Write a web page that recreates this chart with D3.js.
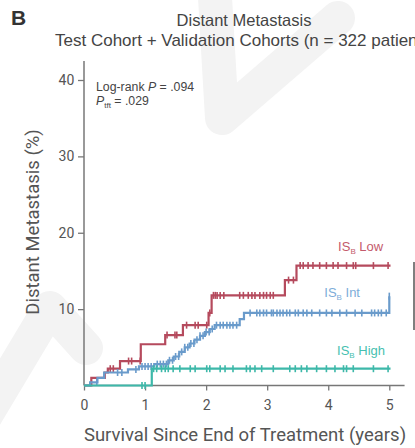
<!DOCTYPE html>
<html>
<head>
<meta charset="utf-8">
<script src="https://cdn.jsdelivr.net/npm/d3@7"></script>
<style>
  html, body { margin: 0; padding: 0; background: #fff; }
  svg { display: block; }
  text { font-family: "Liberation Sans", Arial, sans-serif; }
  .ax text { font-family: Roboto, "Liberation Sans", sans-serif; }
</style>
</head>
<body>
<div id="chart"></div>
<script>
// Cumulative incidence of distant metastasis by IS_B group (step functions)
const lowTimes  = [0, 0.12, 0.34, 0.39, 0.59, 0.93, 1.33, 1.62, 2.04, 2.09, 3.29, 3.48];
const lowRisk   = [0, 1.0, 1.7, 2.2, 3.2, 5.4, 6.6, 7.9, 9.5, 11.8, 13.8, 15.7];
const lowEnd    = 5.02;
const lowCensor = [0.43, 0.48, 0.73, 0.78, 0.92, 1.36, 1.49, 1.52, 1.68, 1.82, 1.87, 2.01, 2.06,
  2.12, 2.15, 2.18, 2.23, 2.29, 2.55, 2.61, 2.69, 2.75, 2.8, 2.88, 2.94, 2.99, 3.05, 3.1,
  3.35, 3.43, 3.54, 3.59, 3.67, 3.75, 3.86, 3.97, 4.08, 4.16, 4.3, 4.41, 4.45, 4.74, 4.98];

const intTimes  = [0, 0.1, 0.22, 0.33, 0.72, 0.9, 1.15, 1.38, 1.47, 1.56, 1.65, 1.73, 1.81, 1.9, 1.98, 2.06, 2.14, 2.55, 2.62, 5.0];
const intRisk   = [0, 0.4, 1.0, 1.7, 2.1, 2.5, 2.8, 3.3, 3.8, 4.4, 5.0, 5.5, 6.0, 6.5, 7.0, 7.4, 7.9, 8.7, 9.5, 11.7];
const intEnd    = 5.0;
const intCensor = [0.21, 0.55, 0.62, 0.85, 0.95, 1.0, 1.05, 1.1, 1.2, 1.25, 1.3, 1.35, 1.4, 1.45, 1.5,
  1.55, 1.6, 1.65, 1.7, 1.75, 1.8, 1.85, 1.9, 1.95, 2.0, 2.05, 2.1, 2.17,
  2.23, 2.28, 2.34, 2.39, 2.44, 2.5,
  2.72, 2.83, 2.88, 2.94, 2.99, 3.07, 3.1, 3.16, 3.21, 3.26, 3.32, 3.37, 3.46, 3.51, 3.59, 3.65,
  3.73, 3.86, 3.97, 4.06, 4.19, 4.3, 4.44, 4.55, 4.71, 4.76, 4.82, 4.87, 4.95, 5.0];

const highTimes  = [0, 1.11];
const highRisk   = [0, 2.2];
const highEnd    = 5.02;
const highCensor = [0.95, 1.0, 1.14, 1.19, 1.27, 1.33, 1.38, 1.46, 1.57, 1.74, 1.82, 2.01, 2.06, 2.23,
  2.31, 2.44, 2.66, 2.72, 2.8, 2.91, 3.1, 3.37, 3.46, 3.56, 3.65, 3.81, 3.97, 4.11, 4.25, 4.3,
  4.41, 4.74, 4.98];

const xTicks = [0, 1, 2, 3, 4, 5];
const yTicks = [10, 20, 30, 40];

const groups = [
  { name: "Low",  times: lowTimes,  risk: lowRisk,  end: lowEnd,  censor: lowCensor,  color: "#b54a5d", label: "#c45a6c", labelAt: [4.9, 17.6] },
  { name: "Int",  times: intTimes,  risk: intRisk,  end: intEnd,  censor: intCensor,  color: "#6a9bcb", label: "#7dadd9", labelAt: [4.52, 11.65] },
  { name: "High", times: highTimes, risk: highRisk, end: highEnd, censor: highCensor, color: "#3db8a9", label: "#46bfb0", labelAt: [4.93, 4.0] }
];

const W = 415, H = 448;
const svg = d3.select("#chart").append("svg").attr("width", W).attr("height", H);

// faint background mark
const wm = svg.append("g").attr("fill", "none").attr("stroke", "#f3f3f3")
  .attr("stroke-width", 34).attr("stroke-linecap", "round").attr("stroke-linejoin", "round");
wm.append("path").attr("d", "M214,-20 L222,118 L338,18");
wm.append("path").attr("d", "M-20,425 L50,308 L86,348");

const x = d3.scaleLinear().domain([0, 5]).range([84, 389.3]);
const y = d3.scaleLinear().domain([0, 40]).range([385.5, 80]);

// panel letter and titles
svg.append("text").attr("x", 11).attr("y", 25).attr("font-size", 21).attr("font-weight", "bold")
  .attr("fill", "#333").text("B");
svg.append("text").attr("x", 244).attr("y", 26).attr("text-anchor", "middle").attr("font-size", 16.5)
  .attr("fill", "#444").text("Distant Metastasis");
svg.append("text").attr("x", 55).attr("y", 46).attr("font-size", 17)
  .attr("fill", "#444").text("Test Cohort + Validation Cohorts (n = 322 patients)");

// axes
const axG = svg.append("g").attr("class", "ax");
const xAxis = axG.append("g").attr("transform", `translate(0,${y(0)})`)
  .call(d3.axisBottom(x).tickValues(xTicks).tickSize(5).tickSizeOuter(0).tickFormat(d3.format("d")));
xAxis.select(".domain").remove();
xAxis.selectAll(".tick line").attr("stroke", "#777").attr("stroke-width", 1.3);
xAxis.selectAll(".tick text").attr("fill", "#555").attr("font-size", 14).attr("dy", "1.15em");

const yAxis = axG.append("g").attr("transform", `translate(${x(0)},0)`)
  .call(d3.axisLeft(y).tickValues(yTicks).tickSize(6).tickSizeOuter(0));
yAxis.select(".domain").remove();
yAxis.selectAll(".tick line").attr("stroke", "#777").attr("stroke-width", 1.3);
yAxis.selectAll(".tick text").attr("fill", "#555").attr("font-size", 14).attr("dx", "-0.05em");

axG.append("line").attr("x1", x(0)).attr("x2", x(0)).attr("y1", y(0)).attr("y2", y(42.5))
  .attr("stroke", "#777").attr("stroke-width", 1.5);
axG.append("line").attr("x1", x(0)).attr("x2", x(5.25)).attr("y1", y(0)).attr("y2", y(0))
  .attr("stroke", "#777").attr("stroke-width", 1.5);

axG.append("text").attr("transform", `translate(39,222) rotate(-90)`)
  .attr("text-anchor", "middle").attr("font-size", 18.5).attr("fill", "#555")
  .text("Distant Metastasis (%)");
axG.append("text").attr("x", 245).attr("y", 441).attr("text-anchor", "middle")
  .attr("font-size", 18.5).attr("fill", "#555").text("Survival Since End of Treatment (years)");

// statistics
const st = svg.append("g").attr("font-size", 12.3).attr("fill", "#444");
const t1 = st.append("text").attr("x", 96).attr("y", 91);
t1.append("tspan").text("Log-rank ");
t1.append("tspan").attr("font-style", "italic").text("P");
t1.append("tspan").text(" = .094");
const t2 = st.append("text").attr("x", 96).attr("y", 104.5);
t2.append("tspan").attr("font-style", "italic").text("P");
t2.append("tspan").attr("font-size", 8).attr("dy", 3).text("tft");
t2.append("tspan").attr("dy", -3).text(" = .029");

// step value at time t
function valueAt(g, t) {
  let v = 0;
  for (let i = 0; i < g.times.length; i++) if (g.times[i] <= t) v = g.risk[i];
  return v;
}

const line = d3.line().x(d => x(d[0])).y(d => y(d[1])).curve(d3.curveStepAfter);

groups.forEach(g => {
  const pts = g.times.map((t, i) => [t, g.risk[i]]);
  pts.push([g.end, g.risk[g.risk.length - 1]]);
  const gg = svg.append("g");
  gg.append("path").datum(pts).attr("d", line).attr("fill", "none")
    .attr("stroke", g.color).attr("stroke-width", 2.2);
  gg.selectAll("line.c").data(g.censor).join("line").attr("class", "c")
    .attr("x1", d => x(d)).attr("x2", d => x(d))
    .attr("y1", d => y(valueAt(g, d)) - 3.5).attr("y2", d => y(valueAt(g, d)) + 3.5)
    .attr("stroke", g.color).attr("stroke-width", 1.6);

  const lb = svg.append("text").attr("x", x(g.labelAt[0])).attr("y", y(g.labelAt[1]))
    .attr("text-anchor", "end").attr("font-size", 13).attr("fill", g.label);
  lb.append("tspan").text("IS");
  lb.append("tspan").attr("font-size", 8).attr("dy", 3).text("B");
  lb.append("tspan").attr("dy", -3).text(" " + g.name);
});

// edge of neighbouring panel
svg.append("line").attr("x1", 414).attr("x2", 414).attr("y1", 262).attr("y2", 330)
  .attr("stroke", "#555").attr("stroke-width", 1.5);
</script>
</body>
</html>
